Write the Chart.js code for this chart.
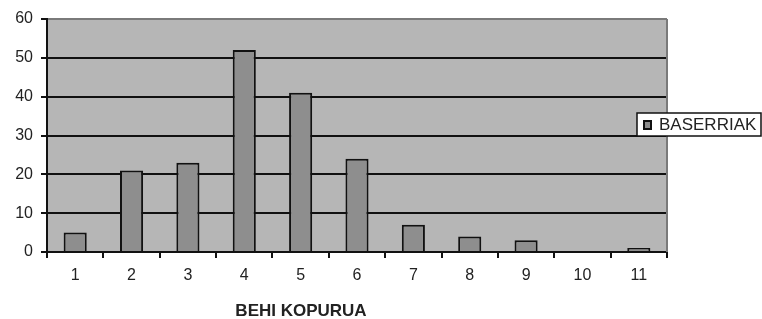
<!DOCTYPE html>
<html>
<head>
<meta charset="utf-8">
<script src="https://cdn.jsdelivr.net/npm/chart.js@4/dist/chart.umd.min.js"></script>
<style>
html,body{margin:0;padding:0;background:#fff;}
#wrap{width:762px;height:319px;position:relative;}
</style>
</head>
<body>
<div id="wrap"><canvas id="c" width="762" height="319"></canvas></div>
<script>
const categories = ['1','2','3','4','5','6','7','8','9','10','11'];
const seriesName = 'BASERRIAK';
const values = [5, 21, 23, 52, 41, 24, 7, 4, 3, 0, 1];
const yTicks = [0, 10, 20, 30, 40, 50, 60];
const xAxisTitle = 'BEHI KOPURUA';

const FONT = '"Liberation Sans", Arial, sans-serif';
const TEXT = '#222';

const decor = {
  id: 'decor',
  beforeDraw(chart) {
    const a = chart.chartArea, ctx = chart.ctx;
    ctx.save();
    ctx.fillStyle = '#b6b6b6';
    ctx.fillRect(a.left, a.top, a.right - a.left, a.bottom - a.top);
    ctx.restore();
  },
  afterDraw(chart) {
    const a = chart.chartArea, ctx = chart.ctx;
    ctx.save();
    ctx.strokeStyle = '#7a7a7a';
    ctx.lineWidth = 2;
    ctx.beginPath();
    ctx.moveTo(a.right, a.top);
    ctx.lineTo(a.right, a.bottom);
    ctx.stroke();
    ctx.fillStyle = TEXT;
    ctx.font = 'bold 17px ' + FONT;
    ctx.textAlign = 'center';
    ctx.textBaseline = 'middle';
    ctx.fillText(xAxisTitle, 301, 311);
    const lx = 637, ly = 113, lw = 124, lh = 23;
    ctx.fillStyle = '#fff';
    ctx.fillRect(lx, ly, lw, lh);
    ctx.strokeStyle = '#111';
    ctx.lineWidth = 1.5;
    ctx.strokeRect(lx, ly, lw, lh);
    ctx.fillStyle = '#8e8e8e';
    ctx.fillRect(644, 121, 7, 8);
    ctx.lineWidth = 2;
    ctx.strokeRect(644, 121, 7, 8);
    ctx.fillStyle = TEXT;
    ctx.font = '17px ' + FONT;
    ctx.textAlign = 'left';
    ctx.fillText(chart.data.datasets[0].label, 659, 125);
    ctx.restore();
  }
};

new Chart(document.getElementById('c'), {
  type: 'bar',
  data: {
    labels: categories,
    datasets: [{
      label: seriesName,
      data: values,
      backgroundColor: '#8e8e8e',
      borderColor: '#111',
      borderWidth: 2,
      borderSkipped: 'bottom',
      barPercentage: 0.41,
      categoryPercentage: 1.0
    }]
  },
  options: {
    responsive: false,
    animation: false,
    devicePixelRatio: 1,
    layout: { padding: { top: 19, right: 95, left: 0, bottom: 0 } },
    plugins: { legend: { display: false }, tooltip: { enabled: false } },
    scales: {
      x: {
        type: 'category',
        offset: true,
        afterFit(s) { s.height = 67; },
        grid: {
          offset: true,
          drawOnChartArea: false,
          drawTicks: true,
          tickLength: 6,
          color: '#111',
          lineWidth: 2
        },
        border: { display: true, color: '#111', width: 2 },
        ticks: { color: TEXT, font: { family: FONT, size: 16 }, padding: 8, maxRotation: 0 }
      },
      y: {
        min: 0,
        max: 60,
        afterFit(s) { s.width = 47; },
        afterBuildTicks(s) { s.ticks = yTicks.map(v => ({ value: v })); },
        grid: {
          color: ctx => (ctx.tick && ctx.tick.value === 60) ? '#7a7a7a' : '#111',
          lineWidth: 2,
          tickLength: 6,
          tickColor: '#111'
        },
        border: { display: true, color: '#111', width: 2 },
        ticks: { color: TEXT, font: { family: FONT, size: 16 }, padding: 8 }
      }
    }
  },
  plugins: [decor]
});
</script>
</body>
</html>
